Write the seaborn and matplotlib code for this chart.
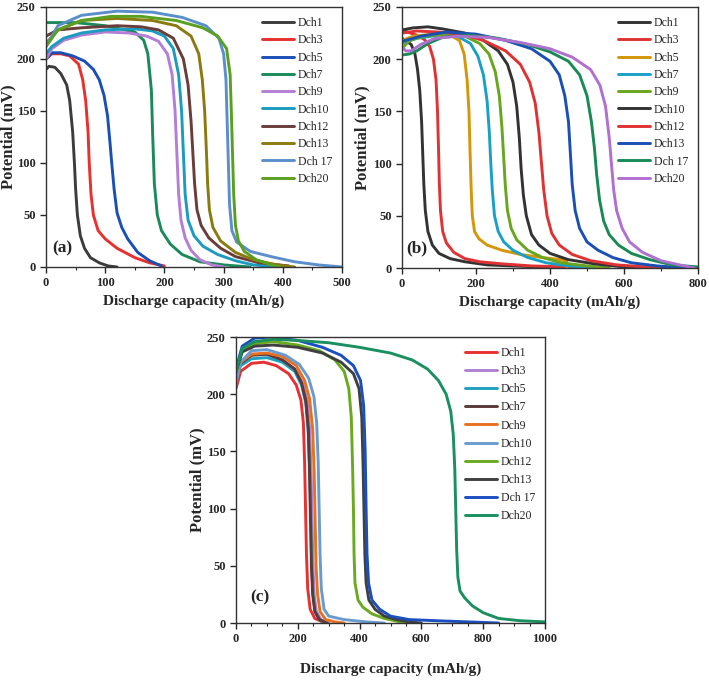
import numpy as np
import pandas as pd
import matplotlib
matplotlib.use("Agg")
import matplotlib.pyplot as plt
from matplotlib.ticker import MultipleLocator
import seaborn as sns

# === Data: (capacity mAh/g, potential mV) ===

labels = ["Dch1", "Dch3", "Dch5", "Dch7", "Dch9", "Dch10", "Dch12", "Dch13", "Dch 17", "Dch20"]

# --- panel (a) ---
a_dch1 = [(0, 190), (5, 193), (15, 192), (25, 186), (35, 175), (40, 160), (45, 130), (48, 100), (50, 75),
          (53, 50), (58, 30), (65, 18), (75, 9), (90, 4), (105, 1), (120, 0)]
a_dch3 = [(0, 200), (10, 205), (25, 205), (40, 203), (55, 195), (62, 180), (67, 160), (71, 130), (73, 100),
          (76, 70), (80, 50), (88, 35), (100, 27), (120, 18), (150, 9), (175, 4), (200, 1)]
a_dch5 = [(0, 200), (10, 206), (25, 206), (45, 203), (65, 198), (80, 190), (90, 180), (98, 165), (104, 145),
          (108, 120), (111, 100), (115, 75), (120, 52), (128, 38), (138, 27), (155, 14), (175, 6), (195, 1)]
a_dch7 = [(0, 235), (50, 235), (100, 232), (150, 226), (165, 218), (172, 205), (178, 170), (180, 130),
          (183, 80), (188, 50), (195, 35), (210, 22), (230, 12), (260, 5), (300, 2), (345, 0)]
a_dch9 = [(0, 200), (10, 210), (30, 218), (60, 223), (100, 226), (140, 225), (170, 222), (190, 217),
          (205, 205), (213, 185), (218, 150), (221, 110), (224, 70), (228, 45), (235, 28), (245, 16),
          (260, 7), (280, 2), (300, 0)]
a_dch10 = [(0, 205), (10, 212), (30, 220), (60, 225), (100, 228), (150, 229), (180, 227), (200, 222),
           (215, 210), (224, 185), (229, 150), (232, 110), (235, 70), (240, 45), (250, 30), (265, 20),
           (290, 12), (320, 6), (350, 2), (390, 0)]
a_dch12 = [(0, 222), (20, 228), (60, 230), (120, 232), (160, 231), (190, 228), (215, 220), (232, 200),
           (240, 175), (245, 140), (248, 110), (251, 80), (255, 55), (262, 40), (275, 28), (295, 18),
           (320, 10), (360, 4), (410, 1)]
a_dch13 = [(0, 215), (20, 228), (60, 237), (120, 239), (180, 237), (220, 232), (245, 222), (258, 205),
           (264, 180), (268, 150), (271, 110), (273, 80), (276, 55), (282, 38), (295, 25), (320, 14),
           (350, 7), (390, 2), (420, 0)]
a_dch17 = [(0, 212), (20, 232), (60, 242), (120, 246), (180, 245), (230, 240), (270, 232), (292, 220),
           (300, 205), (304, 180), (306, 140), (308, 100), (310, 60), (314, 35), (322, 24), (345, 15),
           (380, 10), (420, 5), (460, 2), (500, 0)]
a_dch20 = [(0, 212), (20, 228), (60, 237), (110, 241), (160, 241), (220, 237), (265, 230), (290, 222),
           (305, 210), (311, 185), (313, 150), (315, 110), (317, 70), (320, 40), (325, 25), (335, 15),
           (355, 7), (375, 3), (395, 0)]
a_colors = ["#3c3c3c", "#e8302e", "#1a4fb5", "#1b8a5a", "#b57ed6",
            "#1a9bbf", "#6b3d3a", "#8a7a10", "#5b8fcb", "#5aa020"]

# --- panel (b) ---
b_dch1 = [(0, 220), (10, 218), (25, 214), (35, 205), (42, 190), (48, 170), (53, 140), (56, 110), (59, 80),
          (63, 55), (70, 35), (82, 22), (100, 14), (130, 9), (170, 6), (230, 3), (300, 2), (380, 1), (450, 0)]
b_dch3 = [(0, 228), (15, 226), (40, 223), (60, 219), (75, 212), (85, 200), (92, 180), (96, 150), (99, 110),
          (101, 80), (104, 55), (110, 35), (120, 24), (140, 15), (170, 9), (210, 6), (270, 4), (350, 2),
          (450, 1), (550, 0)]
b_dch5 = [(0, 218), (30, 222), (80, 224), (130, 223), (155, 218), (168, 205), (176, 180), (181, 150),
          (184, 110), (187, 75), (190, 50), (196, 35), (208, 28), (230, 22), (270, 17), (320, 13),
          (380, 10), (430, 8), (445, 6), (446, 0)]
b_dch7 = [(0, 215), (40, 220), (100, 223), (150, 222), (185, 215), (205, 203), (220, 185), (230, 160),
          (236, 130), (240, 100), (244, 75), (250, 50), (260, 35), (275, 25), (300, 17), (340, 10),
          (390, 5), (450, 2), (520, 0)]
b_dch9 = [(0, 210), (20, 218), (60, 222), (120, 224), (170, 222), (210, 215), (235, 205), (252, 188),
          (263, 165), (270, 135), (275, 105), (279, 80), (285, 55), (295, 38), (310, 27), (340, 17),
          (380, 10), (430, 5), (500, 2), (560, 0)]
b_dch10 = [(0, 228), (30, 230), (70, 231), (110, 229), (170, 225), (220, 218), (260, 208), (285, 195),
           (300, 178), (310, 155), (317, 125), (322, 95), (328, 70), (336, 50), (350, 32), (370, 22),
           (400, 14), (450, 8), (520, 4), (600, 1), (680, 0)]
b_dch12 = [(0, 225), (40, 227), (100, 226), (160, 224), (220, 218), (280, 208), (320, 195), (345, 178),
           (360, 158), (370, 130), (377, 100), (383, 75), (392, 50), (405, 33), (425, 22), (460, 13),
           (510, 7), (580, 3), (660, 1), (750, 0)]
b_dch13 = [(0, 217), (50, 222), (120, 226), (200, 224), (280, 218), (350, 210), (400, 198), (425, 185),
           (440, 165), (450, 140), (455, 110), (460, 80), (468, 55), (480, 38), (500, 25), (530, 17),
           (570, 10), (620, 5), (690, 2), (770, 0)]
b_dch17 = [(0, 204), (20, 205), (40, 208), (70, 215), (110, 221), (180, 223), (260, 220), (340, 214),
           (400, 207), (450, 198), (480, 185), (500, 165), (512, 140), (520, 115), (526, 90), (534, 65),
           (545, 45), (560, 32), (585, 22), (620, 14), (670, 8), (730, 3), (800, 1)]
b_dch20 = [(0, 212), (10, 208), (25, 208), (50, 214), (90, 220), (150, 222), (230, 221), (320, 216),
           (400, 210), (460, 202), (510, 190), (535, 175), (550, 155), (560, 125), (566, 100), (572, 75),
           (580, 55), (595, 38), (615, 25), (650, 15), (700, 7), (750, 3), (790, 0)]
b_colors = ["#333333", "#e03232", "#d4960a", "#1aa0c8", "#6aa520",
            "#333333", "#e03232", "#1a4fb5", "#1a8a55", "#b070d0"]

# --- panel (c) ---
c_dch1 = [(0, 205), (15, 220), (50, 227), (90, 228), (130, 225), (170, 218), (195, 208), (210, 195),
          (218, 175), (222, 140), (225, 100), (228, 60), (232, 30), (240, 12), (255, 4), (280, 1), (300, 0)]
c_dch3 = [(0, 215), (15, 228), (50, 235), (100, 235), (150, 230), (190, 222), (215, 210), (230, 195),
          (238, 170), (243, 130), (246, 90), (249, 50), (253, 25), (260, 10), (275, 3), (300, 0)]
c_dch5 = [(0, 212), (15, 225), (50, 231), (100, 232), (150, 228), (190, 220), (212, 208), (226, 192),
          (234, 165), (239, 130), (242, 90), (245, 50), (249, 25), (256, 10), (270, 3), (290, 0)]
c_dch7 = [(0, 214), (15, 227), (50, 234), (100, 235), (150, 230), (190, 222), (212, 210), (226, 194),
          (234, 170), (238, 130), (241, 90), (244, 50), (248, 25), (255, 10), (270, 3), (295, 0)]
c_dch9 = [(0, 213), (15, 228), (50, 235), (100, 236), (150, 233), (195, 225), (222, 212), (238, 196),
          (248, 170), (253, 130), (256, 90), (259, 50), (264, 25), (272, 10), (290, 3), (320, 1), (350, 0)]
c_dch10 = [(0, 210), (15, 228), (50, 238), (100, 239), (160, 234), (205, 226), (235, 214), (252, 198),
           (261, 175), (266, 140), (269, 100), (272, 60), (276, 30), (285, 12), (300, 6), (350, 3),
           (420, 1), (480, 0)]
c_dch12 = [(0, 218), (20, 238), (60, 244), (120, 246), (200, 243), (270, 238), (320, 230), (350, 220),
           (365, 205), (373, 180), (377, 140), (380, 100), (382, 60), (385, 35), (395, 20), (410, 14),
           (440, 8), (480, 4), (530, 1), (560, 0)]
c_dch13 = [(0, 220), (20, 237), (60, 242), (120, 243), (200, 241), (280, 236), (340, 228), (380, 218),
           (398, 205), (407, 180), (411, 140), (414, 100), (417, 60), (421, 35), (430, 20), (450, 12),
           (480, 6), (520, 3), (560, 1), (600, 0)]
c_dch17 = [(0, 222), (20, 242), (60, 249), (110, 250), (200, 247), (280, 241), (340, 234), (380, 225),
           (403, 212), (413, 190), (418, 150), (421, 100), (424, 60), (429, 35), (440, 20), (465, 12),
           (500, 6), (560, 3), (650, 2), (750, 1), (850, 0)]
c_dch20 = [(0, 220), (20, 240), (60, 246), (120, 248), (200, 247), (300, 245), (400, 241), (500, 236),
           (570, 230), (620, 222), (655, 212), (680, 200), (695, 185), (703, 165), (708, 135), (711, 100),
           (714, 65), (718, 40), (725, 28), (740, 22), (765, 15), (800, 9), (850, 4), (920, 2), (1000, 1)]
c_colors = ["#e83030", "#b080d0", "#20a0c0", "#5a3a3a", "#e87020",
            "#6a9bd0", "#6aaa20", "#404040", "#1a4fc0", "#1a9060"]

a_curves = [a_dch1, a_dch3, a_dch5, a_dch7, a_dch9, a_dch10, a_dch12, a_dch13, a_dch17, a_dch20]
b_curves = [b_dch1, b_dch3, b_dch5, b_dch7, b_dch9, b_dch10, b_dch12, b_dch13, b_dch17, b_dch20]
c_curves = [c_dch1, c_dch3, c_dch5, c_dch7, c_dch9, c_dch10, c_dch12, c_dch13, c_dch17, c_dch20]

# === Style ===
sns.set_style("ticks")
plt.rcParams["font.family"] = ["Liberation Serif", "DejaVu Serif"]
plt.rcParams["xtick.direction"] = "out"
plt.rcParams["ytick.direction"] = "out"


def long_frame(curves):
    rows = []
    for lab, pts in zip(labels, curves):
        for x, y in pts:
            rows.append({"cap": x, "pot": y, "cycle": lab})
    return pd.DataFrame(rows)


def draw_panel(ax, curves, colors, xmax, xmajor, xminor, tag, tagpos, xpad, ylab_x, lspace):
    df = long_frame(curves)
    sns.lineplot(data=df, x="cap", y="pot", hue="cycle", hue_order=labels,
                 palette=colors, sort=False, estimator=None, lw=2.1, ax=ax)
    ax.set_xlim(0, xmax)
    ax.set_ylim(0, 250)
    ax.xaxis.set_major_locator(MultipleLocator(xmajor))
    ax.xaxis.set_minor_locator(MultipleLocator(xminor))
    ax.yaxis.set_major_locator(MultipleLocator(50))
    ax.tick_params(which="major", length=4, width=1, labelsize=9)
    ax.tick_params(which="minor", length=2.5, width=0.8)
    for t in ax.get_xticklabels() + ax.get_yticklabels():
        t.set_fontweight("bold")
    for sp in ax.spines.values():
        sp.set_linewidth(1.0)
        sp.set_color("#333333")
    ax.set_xlabel("Discharge capacity (mAh/g)", fontsize=11, fontweight="bold", labelpad=xpad)
    ax.set_ylabel("Potential (mV)", fontsize=12, fontweight="bold")
    # the rotated label's right edge sits at this axes-fraction x
    ax.yaxis.set_label_coords(ylab_x, 0.5)
    ax.text(tagpos[0], tagpos[1], tag, transform=ax.transAxes, fontsize=12.5,
            fontweight="bold", ha="center", va="center")
    ax.legend(loc="upper right", frameon=False, fontsize=8.5, handlelength=2.7,
              handletextpad=0.3, labelspacing=lspace, borderaxespad=0.45, title=None)


fig = plt.figure(figsize=(7.09, 6.86), dpi=100)
ax_a = fig.add_axes([0.0649, 0.6108, 0.4175, 0.379])
ax_b = fig.add_axes([0.567, 0.6093, 0.4175, 0.3805])
ax_c = fig.add_axes([0.3329, 0.0918, 0.4358, 0.4169])

draw_panel(ax_a, a_curves, a_colors, 500, 100, 50, "(a)", (0.054, 0.073), 3.5, -0.101, 0.45)
draw_panel(ax_b, b_curves, b_colors, 800, 200, 100, "(b)", (0.05, 0.075), 3.5, -0.108, 0.45)
draw_panel(ax_c, c_curves, c_colors, 1000, 200, 50, "(c)", (0.078, 0.091), 12, -0.10, 0.52)

plt.savefig("out.png", dpi=100)
plt.close()
